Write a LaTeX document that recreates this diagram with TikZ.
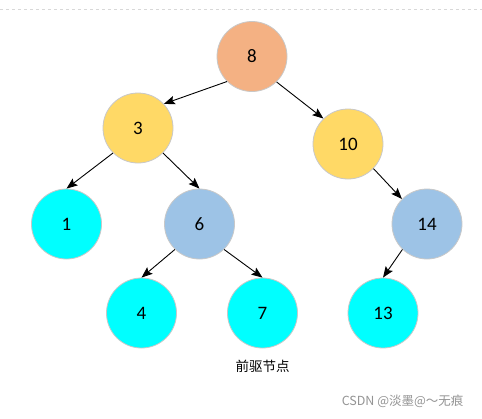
\documentclass[tikz,border=0pt]{standalone}
\usepackage{fontspec}
\setmainfont{Carlito}
\newfontfamily\cjk{Noto Sans CJK SC}
\usetikzlibrary{arrows.meta}
\definecolor{corange}{HTML}{F4B183}
\definecolor{cyellow}{HTML}{FFD966}
\definecolor{cblue}{HTML}{9DC3E6}
\definecolor{ccyan}{HTML}{00FFFF}
\definecolor{cborder}{HTML}{C8C8C8}
\begin{document}
\begin{tikzpicture}[x=1pt,y=-1pt,
  tnode/.style={circle,draw=cborder,line width=0.8pt,minimum size=70pt,inner sep=0pt,font=\fontsize{19}{21}\selectfont},
  edge/.style={draw=black,line width=0.9pt,-{Stealth[length=11pt,width=8.5pt,inset=2pt]}}]
\useasboundingbox[fill=white] (0,0) rectangle (482,418);
\draw[cborder!70,dashed,line width=0.5pt] (0,9) -- (482,9);
\node[tnode,fill=corange] (n8) at (252,56.5) {8};
\node[tnode,fill=cyellow] (n3) at (138,128) {3};
\node[tnode,fill=cyellow] (n10) at (348,144) {10};
\node[tnode,fill=ccyan] (n1) at (66.5,224) {1};
\node[tnode,fill=cblue] (n6) at (199.5,224) {6};
\node[tnode,fill=cblue] (n14) at (427,224) {14};
\node[tnode,fill=ccyan] (n4) at (141.5,313) {4};
\node[tnode,fill=ccyan] (n7) at (262.5,313) {7};
\node[tnode,fill=ccyan] (n13) at (383,313) {13};
\draw[edge] (n8.225) -- (n3.43);
\draw[edge] (n8.314) -- (n10.134);
\draw[edge] (n3.225) -- (n1.90);
\draw[edge] (n3.315) -- (n6.90);
\draw[edge] (n10.316) -- (n14.135);
\draw[edge] (n6.226) -- (n4.90);
\draw[edge] (n6.314) -- (n7.90);
\draw[edge] (n14.226) -- (n13.90);
\node[font=\cjk\fontsize{13.5}{15}\selectfont] (lbl) at (262.5,366) {前驱节点};
\node[font=\cjk\fontsize{12.5}{14}\selectfont,text=black!42,anchor=east] (wm) at (467,401) {CSDN @淡墨@～无痕};
\end{tikzpicture}
\end{document}
